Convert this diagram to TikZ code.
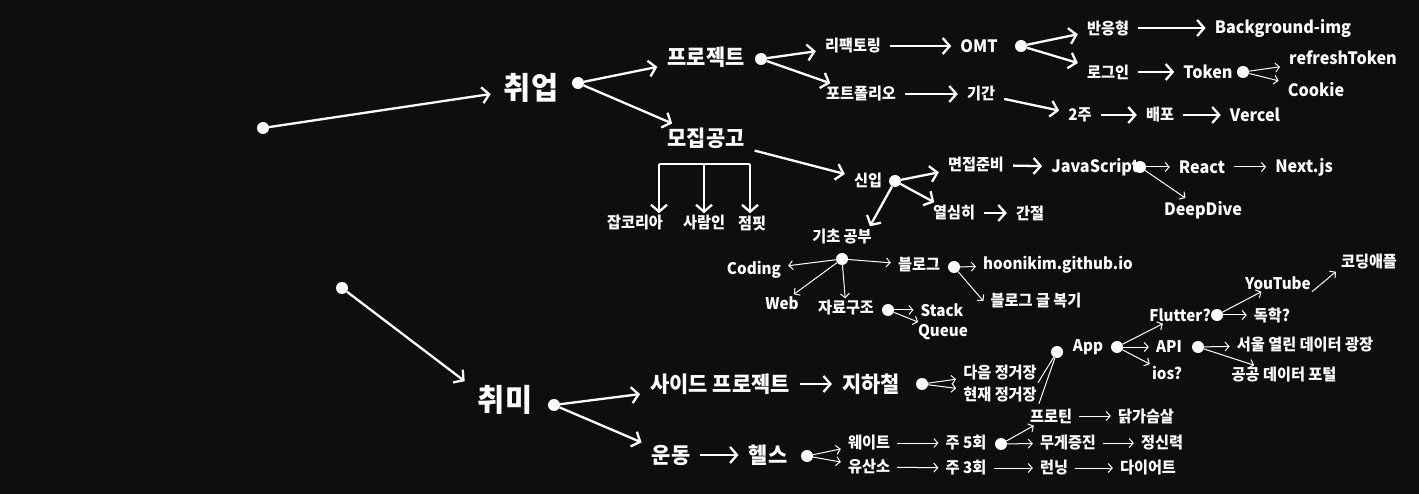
\documentclass[tikz,border=0pt]{standalone}
\usepackage{fontspec}
\newfontfamily\kr{Noto Sans CJK KR}[FakeStretch=0.95]
\usetikzlibrary{arrows.meta}
\definecolor{bg}{HTML}{0E0E0E}
\begin{document}
\begin{tikzpicture}[x=1pt,y=-1pt,white,
	title/.style={font=\kr\bfseries\fontsize{31}{31}\selectfont,inner xsep=13pt,inner ysep=6pt},
	head/.style={font=\kr\bfseries\fontsize{22}{22}\selectfont,inner xsep=10pt,inner ysep=4pt},
	item/.style={font=\kr\bfseries\fontsize{16}{16}\selectfont,inner xsep=9pt,inner ysep=3pt},
	word/.style={item,font=\kr\bfseries\fontsize{17}{17}\selectfont},
	leaf/.style={font=\kr\bfseries\fontsize{16}{16}\selectfont,inner xsep=7pt,inner ysep=2pt},
	dot/.style={circle,fill=white,inner sep=0pt,minimum size=12pt},
	bar/.style={line width=2.3pt,-{Straight Barb[length=7pt,width=16pt]}},
	wire/.style={line width=1pt,-{Straight Barb[length=4pt,width=9pt]}},
	link/.style={line width=1pt}]
	\fill[bg] (0,0) rectangle (1419,494);
	\node[dot] (d_0) at (263,128) {};
	\node[dot] (d_1) at (342,288) {};
	\node[title] (job) at (531,88) {취업};
	\node[dot] (jd) at (578,83) {};
	\node[head] (proj) at (706,57) {프로젝트};
	\node[head] (recr) at (706,138) {모집공고};
	\node[dot] (pd) at (761,59) {};
	\node[item] (refac) at (853,46) {리팩토링};
	\node[item] (port) at (861,94) {포트폴리오};
	\node[word] (omt) at (979,46) {OMT};
	\node[dot] (od) at (1021,46) {};
	\node[item] (resp) at (1108,28) {반응형};
	\node[item] (login) at (1108,72) {로그인};
	\node[word] (bgimg) at (1283,28) {Background-img};
	\node[word] (token) at (1208,72) {Token};
	\node[dot] (td) at (1243,72) {};
	\node[word] (refresh) at (1343,58) {refreshToken};
	\node[word] (cookie) at (1316,90) {Cookie};
	\node[item] (period) at (981,94) {기간};
	\node[item] (week) at (1080,115) {2주};
	\node[item] (deploy) at (1160,115) {배포};
	\node[word] (vercel) at (1255,115) {Vercel};
	\node[leaf] (jk) at (635,223) {잡코리아};
	\node[leaf] (sr) at (704,223) {사람인};
	\node[leaf] (jp) at (752,223) {점핏};
	\coordinate (b_l) at (659,164);
	\coordinate (b_m) at (704,164);
	\coordinate (b_r) at (750,164);
	\node[item] (newbie) at (868,180) {신입};
	\node[dot] (nd) at (895,181) {};
	\node[item] (prep) at (976,165) {면접준비};
	\node[word] (js) at (1095,167) {JavaScript};
	\node[dot] (jsd) at (1140,167) {};
	\node[word] (react) at (1202,167) {React};
	\node[word] (nextjs) at (1304,167) {Next.js};
	\node[word] (deep) at (1203,210) {DeepDive};
	\node[item] (eager) at (954,213) {열심히};
	\node[item] (desire) at (1030,213) {간절};
	\node[item] (basic) at (842,237) {기초 공부};
	\node[dot] (bd) at (842,259) {};
	\node[leaf] (coding) at (754,270) {Coding};
	\node[leaf] (web) at (782,303) {Web};
	\node[leaf] (ds) at (846,308) {자료구조};
	\node[leaf] (blog) at (919,265) {블로그};
	\node[dot] (blogd) at (954,267) {};
	\node[leaf] (gh) at (1058,265) {hoonikim.github.io};
	\node[leaf] (review) at (1036,301) {블로그 글 복기};
	\node[dot] (dsd) at (888,310) {};
	\node[leaf] (stack) at (942,310) {Stack};
	\node[leaf] (queue) at (943,332) {Queue};
	\node[title] (hobby) at (505,400) {취미};
	\node[dot] (hd) at (554,405) {};
	\node[head] (side) at (720,384) {사이드 프로젝트};
	\node[head] (subway) at (871,384) {지하철};
	\node[dot] (subd) at (922,384) {};
	\node[leaf] (next) at (1000,373) {다음 정거장};
	\node[leaf] (cur) at (1000,394) {현재 정거장};
	\node[dot] (appd) at (1057,352) {};
	\node[leaf] (app) at (1088,347) {App};
	\node[dot] (appd2) at (1117,347) {};
	\node[leaf] (flutter) at (1180,315) {Flutter?};
	\node[dot] (fd) at (1217,315) {};
	\node[leaf] (yt) at (1278,283) {YouTube};
	\node[leaf] (cda) at (1369,262) {코딩애플};
	\node[leaf] (self) at (1272,315) {독학?};
	\node[leaf] (api) at (1169,347) {API};
	\node[dot] (apid) at (1198,347) {};
	\node[leaf] (seoul) at (1305,345) {서울 열린 데이터 광장};
	\node[leaf] (public) at (1284,375) {공공 데이터 포털};
	\node[leaf] (ios) at (1167,373) {ios?};
	\node[head] (sport) at (671,455) {운동};
	\node[head] (health) at (768,455) {헬스};
	\node[dot] (healthd) at (807,456) {};
	\node[leaf] (weight) at (869,443) {웨이트};
	\node[leaf] (cardio) at (869,467) {유산소};
	\node[leaf] (w5) at (966,443) {주 5회};
	\node[dot] (w5d) at (1001,444) {};
	\node[leaf] (protein) at (1051,416) {프로틴};
	\node[leaf] (chicken) at (1146,416) {닭가슴살};
	\node[leaf] (gain) at (1068,443) {무게증진};
	\node[leaf] (mental) at (1162,443) {정신력};
	\node[leaf] (w3) at (966,468) {주 3회};
	\node[leaf] (run) at (1054,468) {런닝};
	\node[leaf] (diet) at (1148,468) {다이어트};
	\path[bar]
	(d_0) edge (job)
	(jd) edge (proj)
	(jd) edge (recr)
	(pd) edge (refac)
	(pd) edge (port)
	(refac) edge (omt)
	(port) edge (period)
	(od) edge (resp)
	(od) edge (login)
	(resp) edge (bgimg)
	(login) edge (token)
	(period) edge (week)
	(week) edge (deploy)
	(deploy) edge (vercel)
	(recr) edge (newbie)
	(nd) edge (prep)
	(nd) edge (eager)
	(nd) edge (basic.21)
	(prep) edge (js)
	(eager) edge (desire)
	(b_l) edge (b_l |- jk.north)
	(b_m) edge (b_m |- sr.north)
	(b_r) edge (b_r |- jp.north)
	(d_1) edge (hobby.155)
	(hd) edge (side)
	(hd) edge (sport)
	(side) edge (subway)
	(sport) edge (health)
	;
	\draw[line width=2.3pt] (b_l) -- (b_r);
	\path[wire]
	(td) edge (refresh)
	(td) edge (cookie)
	(jsd) edge (react)
	(jsd) edge (deep)
	(react) edge (nextjs)
	(bd) edge (coding)
	(bd) edge (web)
	(bd) edge (ds)
	(bd) edge (blog)
	(blogd) edge (gh)
	(blogd) edge (review.west)
	(dsd) edge (stack)
	(dsd) edge (queue)
	(subd) edge (next)
	(subd) edge (cur)
	(appd2) edge (flutter)
	(appd2) edge (api)
	(appd2) edge (ios)
	(fd) edge (yt)
	(fd) edge (self)
	([xshift=-6pt]yt.south east) edge ([xshift=2pt]cda.south west)
	(apid) edge (seoul)
	(apid) edge (public)
	(healthd) edge (weight)
	(healthd) edge (cardio)
	(weight) edge (w5)
	(cardio) edge (w3)
	(w5d) edge (protein)
	(w5d) edge (gain)
	(protein) edge (chicken)
	(gain) edge (mental)
	(w3) edge (run)
	(run) edge (diet)
	;
	\path[link]
	([xshift=-6pt]next.south east) edge (appd)
	([xshift=-5pt]cur.south east) edge (appd)
	;
\end{tikzpicture}
\end{document}
